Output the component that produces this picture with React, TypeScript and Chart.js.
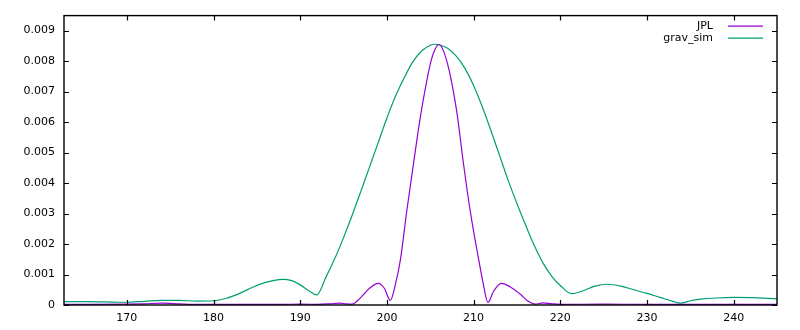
import React, { useEffect, useRef } from 'react';
import { Chart, registerables } from 'chart.js';

Chart.register(...registerables);

const seriesLabels = ['JPL', 'grav_sim'];
const seriesColors = ['#9400d3', '#009e73'];

const jplX = [162.75, 166, 170, 172, 174, 176, 178, 180, 184, 188, 190, 192, 193.5, 194.5, 195.3, 196, 197, 198, 199, 199.7, 200.4, 201, 201.55, 202.3, 203.1, 203.85, 204.5, 205.0, 205.5, 206.0, 206.5, 207.1, 207.6, 208.1, 208.85, 209.6, 210.1, 210.6, 211.1, 211.65, 212.3, 213.2, 214.2, 215.4, 216.3, 217.1, 218, 219, 220, 225, 230, 235, 240, 245];
const jplY = [0.00002, 0.00002, 0.00003, 0.00004, 0.00006, 0.00004, 0.00002, 0.00002, 0.00002, 0.00002, 0.00003, 0.00002, 0.00004, 0.00006, 0.00004, 0.00003, 0.00025, 0.00055, 0.00071, 0.00055, 0.00015, 0.0007, 0.00147, 0.0031, 0.0047, 0.00615, 0.0072, 0.0079, 0.00835, 0.00855, 0.00835, 0.00779, 0.0071, 0.00626, 0.0046, 0.0031, 0.00225, 0.00147, 0.00072, 0.00008, 0.00045, 0.00071, 0.0006, 0.00035, 0.00012, 0.00003, 0.00007, 0.00004, 0.00002, 0.00003, 0.00002, 0.00002, 0.00002, 0.00002];

const gravX = [162.75, 165, 167.5, 170, 172, 174, 176, 178, 180, 181.5, 183, 184.5, 186, 187, 188, 189, 190, 191, 191.9, 193, 194, 195, 196, 197, 198, 199, 200, 201, 202, 203, 204, 205, 205.5, 206, 207, 208, 209, 210, 211, 212, 213, 214, 215, 216, 217, 218, 219, 220, 221.3, 222.5, 224, 225.4, 227, 228.5, 230, 231.5, 233, 233.85, 235, 236.2, 238, 240, 242, 245];
const gravY = [0.00011, 0.00011, 0.0001, 0.00009, 0.00012, 0.00015, 0.00015, 0.00013, 0.00014, 0.00022, 0.00038, 0.00058, 0.00074, 0.00081, 0.00084, 0.0008, 0.00066, 0.00047, 0.00033, 0.00093, 0.00153, 0.00221, 0.00295, 0.00373, 0.00453, 0.00533, 0.00613, 0.00685, 0.00745, 0.00798, 0.00833, 0.00852, 0.00855, 0.00853, 0.00842, 0.00816, 0.00776, 0.0072, 0.0065, 0.00572, 0.0049, 0.00408, 0.00333, 0.00262, 0.00195, 0.00138, 0.00095, 0.00064, 0.00037, 0.00045, 0.00062, 0.00068, 0.00062, 0.0005, 0.00038, 0.00025, 0.00012, 0.00006, 0.00014, 0.00019, 0.00023, 0.00025, 0.00024, 0.0002];

const xTicks = [170, 180, 190, 200, 210, 220, 230, 240];
const yTicks = [0, 0.001, 0.002, 0.003, 0.004, 0.005, 0.006, 0.007, 0.008, 0.009];
const xRange = [162.75, 245];
const yRange = [0, 0.00949];

const FONT = '"DejaVu Sans", sans-serif';

const framePlugin = {
  id: 'gpFrame',
  afterDraw(chart: any) {
    const { ctx, chartArea: ca } = chart;
    const xs = chart.scales.x;
    const ys = chart.scales.y;
    ctx.save();
    ctx.strokeStyle = '#000';
    ctx.lineWidth = 1.2;
    ctx.beginPath();
    const tl = 5;
    xs.ticks.forEach((t: any) => {
      const px = Math.round(xs.getPixelForValue(t.value)) + 0.5;
      ctx.moveTo(px, ca.bottom);
      ctx.lineTo(px, ca.bottom - tl);
      ctx.moveTo(px, ca.top);
      ctx.lineTo(px, ca.top + tl);
    });
    ys.ticks.forEach((t: any) => {
      const py = Math.round(ys.getPixelForValue(t.value)) + 0.5;
      ctx.moveTo(ca.left, py);
      ctx.lineTo(ca.left + tl, py);
      ctx.moveTo(ca.right, py);
      ctx.lineTo(ca.right - tl, py);
    });
    ctx.stroke();
    ctx.lineWidth = 1.4;
    ctx.strokeRect(ca.left, ca.top, ca.right - ca.left, ca.bottom - ca.top);
    // legend (gnuplot style: right aligned text, then sample line)
    ctx.font = '11px ' + FONT;
    ctx.textAlign = 'right';
    ctx.textBaseline = 'middle';
    chart.data.datasets.forEach((ds: any, i: number) => {
      const y = ca.top + 10.5 + i * 12;
      ctx.fillStyle = '#000';
      ctx.fillText(ds.label, ca.right - 64, y);
      ctx.strokeStyle = ds.borderColor;
      ctx.lineWidth = 1.2;
      ctx.beginPath();
      ctx.moveTo(ca.right - 49, y);
      ctx.lineTo(ca.right - 14, y);
      ctx.stroke();
    });
    ctx.restore();
  },
};

export default function App() {
  const ref = useRef<HTMLCanvasElement | null>(null);
  useEffect(() => {
    if (!ref.current) return;
    const toPts = (xs: number[], ys: number[]) => xs.map((x, i) => ({ x, y: ys[i] }));
    const chart = new Chart(ref.current, {
      type: 'line',
      data: {
        datasets: [
          {
            label: seriesLabels[0],
            data: toPts(jplX, jplY),
            borderColor: seriesColors[0],
            borderWidth: 1.2,
            pointRadius: 0,
            fill: false,
            cubicInterpolationMode: 'monotone',
          },
          {
            label: seriesLabels[1],
            data: toPts(gravX, gravY),
            borderColor: seriesColors[1],
            borderWidth: 1.2,
            pointRadius: 0,
            fill: false,
            cubicInterpolationMode: 'monotone',
          },
        ],
      },
      options: {
        animation: false,
        responsive: false,
        events: [],
        layout: { padding: { left: 0, right: 23, top: 15, bottom: 0 } },
        plugins: { legend: { display: false }, tooltip: { enabled: false } },
        scales: {
          x: {
            type: 'linear',
            min: xRange[0],
            max: xRange[1],
            grid: { display: false, drawTicks: false },
            border: { display: false },
            afterFit: (s: any) => { s.height = 25; },
            afterBuildTicks: (s: any) => { s.ticks = xTicks.map((v) => ({ value: v })); },
            ticks: {
              padding: 7,
              color: '#000',
              font: { family: FONT, size: 11 },
              maxRotation: 0,
              callback: (v: any) => String(v),
            },
          },
          y: {
            type: 'linear',
            min: yRange[0],
            max: yRange[1],
            grid: { display: false, drawTicks: false },
            border: { display: false },
            afterFit: (s: any) => { s.width = 64; },
            afterBuildTicks: (s: any) => { s.ticks = yTicks.map((v) => ({ value: v })); },
            ticks: {
              padding: 9,
              color: '#000',
              font: { family: FONT, size: 11 },
              callback: (v: any) => (Number(v) === 0 ? '0' : Number(v).toFixed(3)),
            },
          },
        },
      },
      plugins: [framePlugin],
    });
    return () => chart.destroy();
  }, []);
  return (
    <div style={{ position: 'fixed', left: 0, top: 0, width: 800, height: 330, background: '#fff' }}>
      <canvas ref={ref} width={800} height={330} style={{ display: 'block' }} />
    </div>
  );
}
